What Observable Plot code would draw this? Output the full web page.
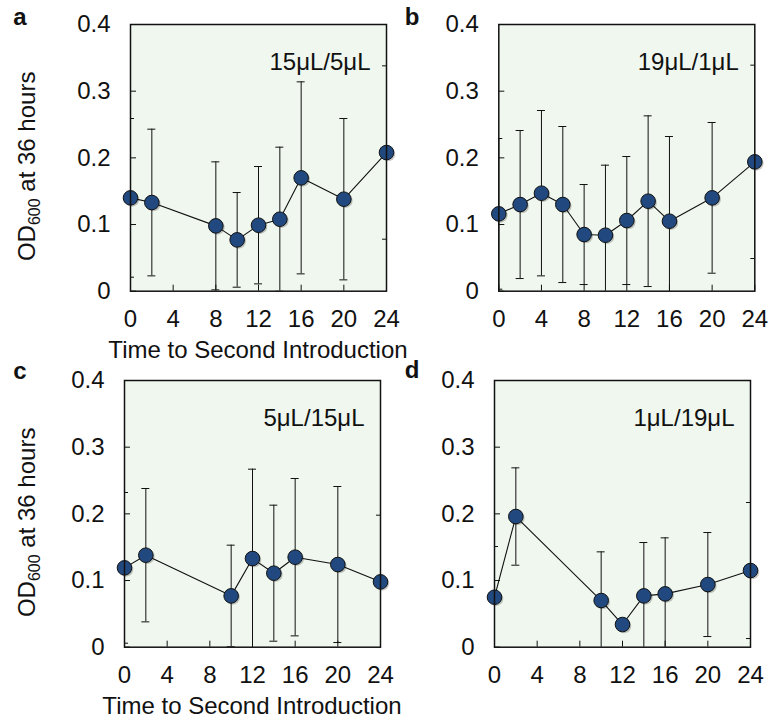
<!DOCTYPE html>
<html>
<head>
<meta charset="utf-8">
<script src="https://cdn.jsdelivr.net/npm/d3@7"></script>
<script src="https://cdn.jsdelivr.net/npm/@observablehq/plot@0.6"></script>
<style>
  body { margin: 0; background: #fff; }
  #wrap { position: relative; width: 769px; height: 721px; overflow: hidden; background: #fff; }
  .pane { position: absolute; }
</style>
</head>
<body>
<div id="wrap"></div>
<script>
// ---- data ----
const xTicks = [0, 4, 8, 12, 16, 20, 24];
const yTicks = [0, 0.1, 0.2, 0.3, 0.4];
const yTickLabels = ["0", "0.1", "0.2", "0.3", "0.4"];

const timesA = [0, 2, 8, 10, 12, 14, 16, 20, 24];
const meansA = [0.140, 0.133, 0.098, 0.077, 0.099, 0.108, 0.170, 0.138, 0.208];
const errsA  = [0.119, 0.110, 0.096, 0.071, 0.088, 0.108, 0.144, 0.121, 0.130];

const timesB = [0, 2, 4, 6, 8, 10, 12, 14, 16, 20, 24];
const meansB = [0.116, 0.130, 0.147, 0.130, 0.085, 0.084, 0.106, 0.135, 0.105, 0.140, 0.194];
const errsB  = [0.113, 0.111, 0.124, 0.117, 0.075, 0.105, 0.096, 0.128, 0.127, 0.113, 0.145];

const timesC = [0, 2, 10, 12, 14, 16, 20, 24];
const meansC = [0.119, 0.138, 0.077, 0.133, 0.111, 0.135, 0.124, 0.098];
const errsC  = [0.113, 0.100, 0.076, 0.134, 0.102, 0.118, 0.117, 0.100];

const timesD = [0, 2, 10, 12, 14, 16, 20, 24];
const meansD = [0.075, 0.196, 0.070, 0.034, 0.077, 0.080, 0.094, 0.115];
const errsD  = [0.076, 0.073, 0.073, 0.005, 0.080, 0.084, 0.078, 0.102];

const panelLabels = ["15μL/5μL", "19μL/1μL", "5μL/15μL", "1μL/19μL"];
const panelLetters = ["a", "b", "c", "d"];
const xTitle = "Time to Second Introduction";

// ---- style ----
const FONT = "'Liberation Sans', Arial, Helvetica, sans-serif";
const FS = 24;
const INK = "#111";
const BG = "#eff7ef";
const DOT = "#21497f";

const panels = [
  {times: timesA, means: meansA, errs: errsA, left: 0,   top: 0,   ml: 130,   letterX: 20, letterY: 25, yTitle: true,  xTitle: true},
  {times: timesB, means: meansB, errs: errsB, left: 384, top: 0,   ml: 114.3, letterX: 28, letterY: 25, yTitle: false, xTitle: false},
  {times: timesC, means: meansC, errs: errsC, left: 0,   top: 356, ml: 124,   letterX: 20, letterY: 23, yTitle: true,  xTitle: true},
  {times: timesD, means: meansD, errs: errsD, left: 384, top: 356, ml: 110,   letterX: 28, letterY: 22, yTitle: false, xTitle: false}
];

const W = 385, H = 365, MT = 24, FW = 256, FH = 266.7;

panels.forEach((p, k) => {
  const data = p.times.map((t, i) => ({t, m: p.means[i], e: p.errs[i]}));
  const svg = Plot.plot({
    width: W, height: H,
    marginLeft: p.ml, marginTop: MT, marginRight: W - p.ml - FW, marginBottom: H - MT - FH,
    x: {domain: [0, 24]},
    y: {domain: [0, 0.4]},
    style: {fontFamily: FONT, fontSize: FS + "px", color: INK, background: "transparent", overflow: "visible", maxWidth: "none"},
    marks: [
      Plot.frame({fill: BG, stroke: null}),
      Plot.ruleX(data, {x: "t", y1: d => d.m - d.e, y2: d => d.m + d.e, stroke: INK, strokeWidth: 1, clip: true}),
      Plot.ruleY(data, {y: d => d.m + d.e, x1: "t", x2: "t", insetLeft: -4, insetRight: -4, stroke: INK, strokeWidth: 1, clip: true}),
      Plot.ruleY(data, {y: d => d.m - d.e, x1: "t", x2: "t", insetLeft: -4, insetRight: -4, stroke: INK, strokeWidth: 1, clip: true}),
      Plot.line(data, {x: "t", y: "m", stroke: INK, strokeWidth: 1.1}),
      Plot.dot(data, {x: "t", y: "m", r: 7.3, fill: "#000", fillOpacity: 0.22, stroke: null, dx: 1.5, dy: 1.5}),
      Plot.dot(data, {x: "t", y: "m", r: 7.3, fill: DOT, stroke: INK, strokeWidth: 1}),
      Plot.axisX(xTicks, {tickSize: -6, tickPadding: 25, label: null, fontSize: FS, stroke: INK}),
      Plot.axisY(yTicks, {tickSize: -6, tickPadding: 26, label: null, fontSize: FS, stroke: INK, tickFormat: (d, i) => yTickLabels[i]}),
      Plot.frame({stroke: INK, strokeWidth: 1.5}),
      Plot.text([panelLabels[k]], {frameAnchor: "top-right", dx: -16, dy: 28, textAnchor: "end", fontSize: FS, fill: INK})
    ]
  });

  const s = d3.select(svg);
  s.append("text")
    .attr("x", p.letterX).attr("y", p.letterY)
    .attr("font-family", FONT).attr("font-size", 24).attr("font-weight", "bold").attr("fill", INK)
    .text(panelLetters[k]);

  if (p.yTitle) {
    const t = s.append("text")
      .attr("transform", `translate(35,${MT + FH / 2 + 9}) rotate(-90)`)
      .attr("text-anchor", "middle")
      .attr("font-family", FONT).attr("font-size", FS).attr("fill", INK);
    t.append("tspan").text("OD");
    t.append("tspan").text("600").attr("font-size", 16).attr("dy", 5);
    t.append("tspan").text(" at 36 hours").attr("dy", -5);
  }
  if (p.xTitle) {
    s.append("text")
      .attr("x", p.ml + FW / 2).attr("y", MT + FH + 67)
      .attr("text-anchor", "middle")
      .attr("font-family", FONT).attr("font-size", FS).attr("fill", INK)
      .text(xTitle);
  }

  const div = document.createElement("div");
  div.className = "pane";
  div.style.left = p.left + "px";
  div.style.top = p.top + "px";
  div.style.width = W + "px";
  div.style.height = H + "px";
  div.appendChild(svg);
  document.getElementById("wrap").appendChild(div);
});
</script>
</body>
</html>
